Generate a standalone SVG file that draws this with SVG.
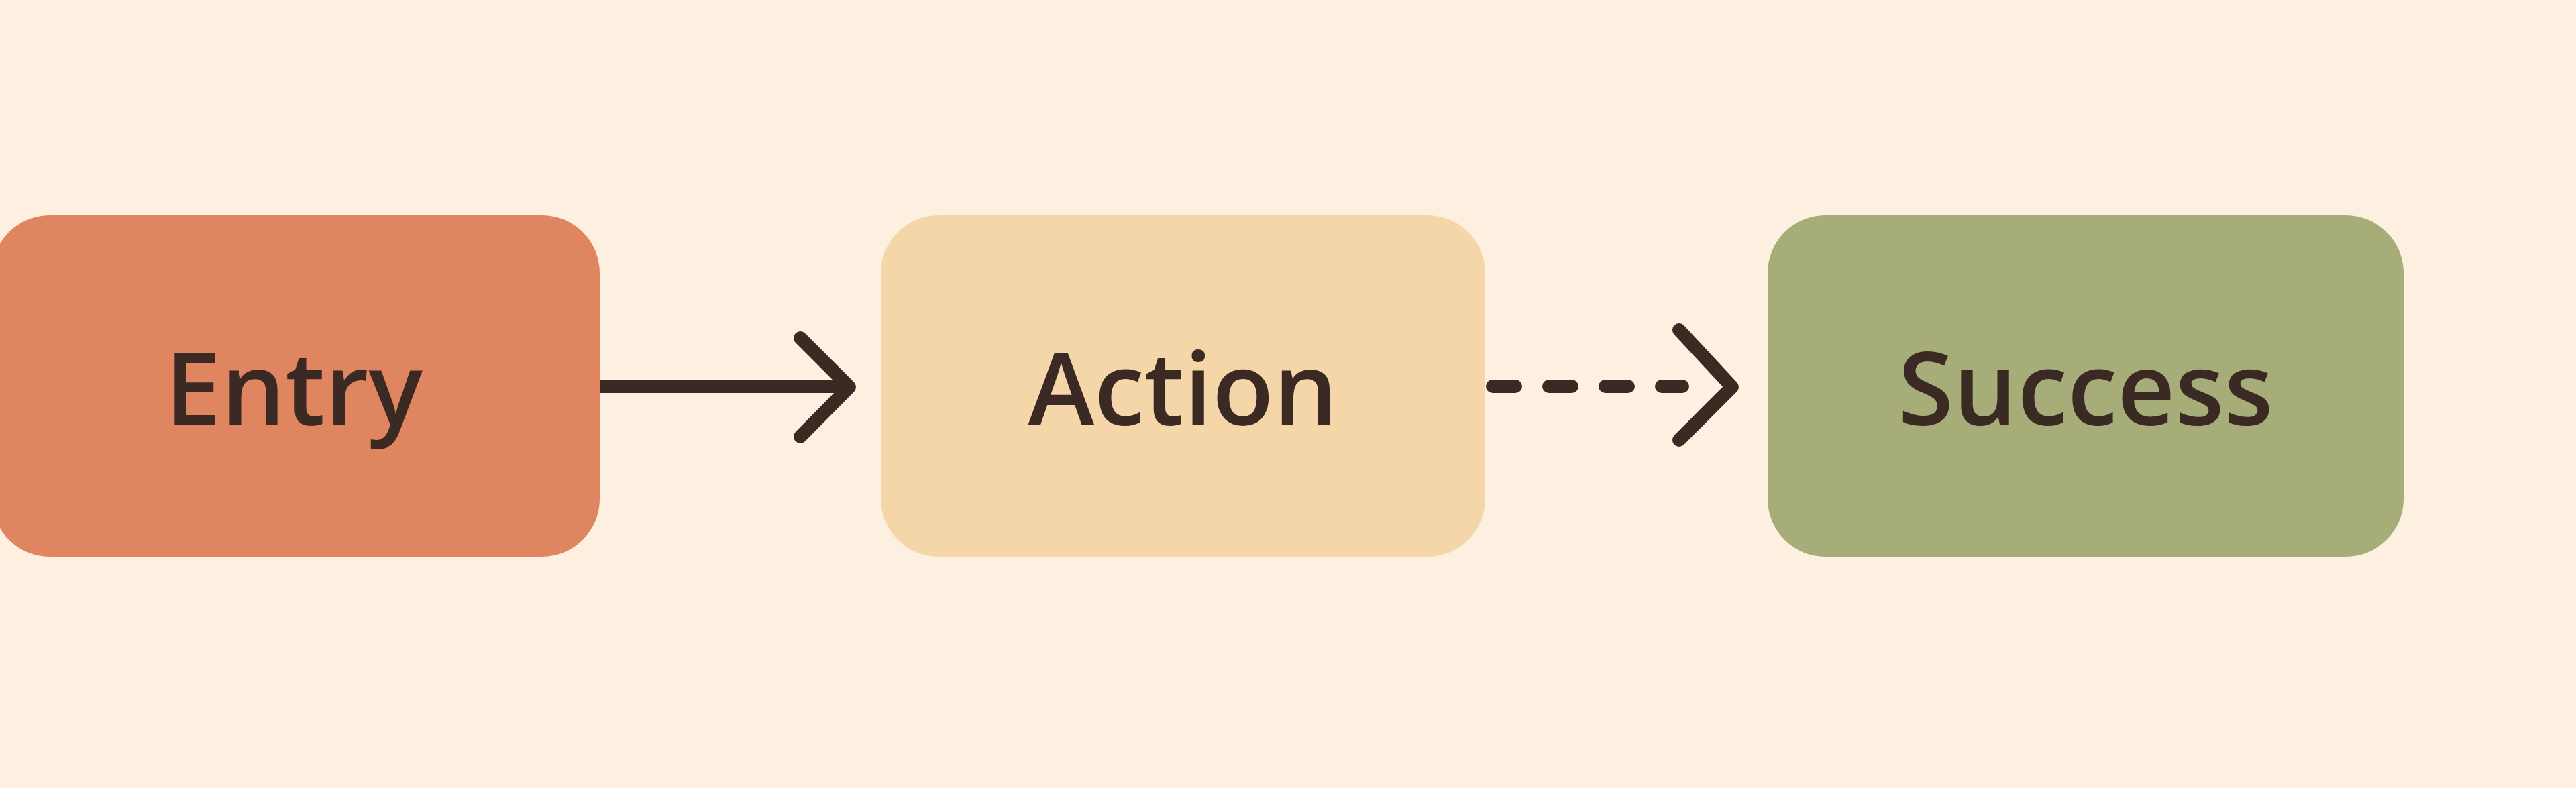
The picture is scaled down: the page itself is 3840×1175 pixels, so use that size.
<svg xmlns="http://www.w3.org/2000/svg" width="3840" height="1175" viewBox="0 0 3840 1175">
<style>
.lbl{font-family:"Open Sans","Liberation Sans",sans-serif;font-weight:600;font-size:150px;fill:#3b2a24;text-anchor:middle;dominant-baseline:central}
.ln{stroke:#3b2a24;stroke-width:20;fill:none;stroke-linecap:round;stroke-linejoin:round}
</style>
<rect width="3840" height="1175" fill="#fdf0e0"/>
<g id="entry"><rect x="-12" y="321" width="906" height="509" rx="86" fill="#df8560"/><text class="lbl" x="438" y="576">Entry</text></g>
<g id="action"><rect x="1313" y="321" width="901" height="509" rx="86" fill="#f5d6a8"/><text class="lbl" x="1763" y="576">Action</text></g>
<g id="success"><rect x="2635" y="321" width="948" height="509" rx="86" fill="#a6ad78"/><text class="lbl" x="3109" y="576">Success</text></g>
<g id="connectors">
<path class="ln" d="M894 576H1262" style="stroke-linecap:butt"/>
<path class="ln" d="M1193 504L1266 577L1193 651"/>
<path class="ln" d="M2225 576H2508" stroke-dasharray="34 50"/>
<path class="ln" d="M2503 492L2582 577L2503 656"/>
</g>
</svg>
